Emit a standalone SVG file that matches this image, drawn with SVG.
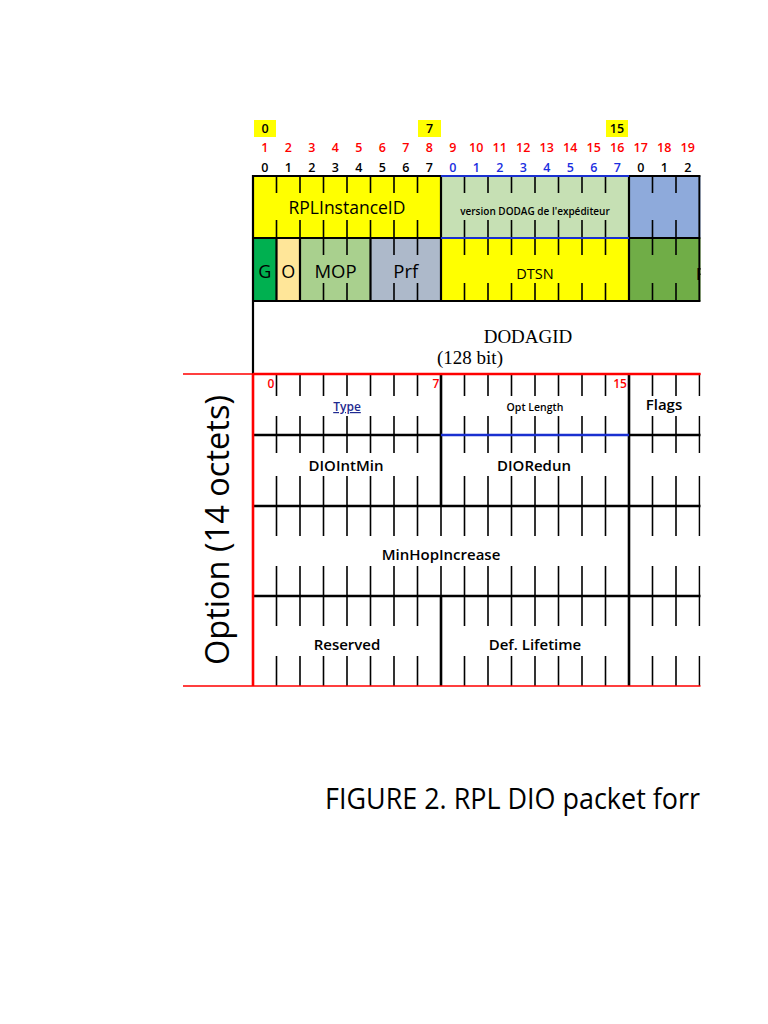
<svg xmlns="http://www.w3.org/2000/svg" width="768" height="1024" viewBox="0 0 768 1024">
<style>
.t{font-family:"Open Sans","Noto Sans",sans-serif;font-weight:600;text-anchor:middle}
.num{font-family:"Open Sans","Noto Sans",sans-serif;font-weight:600;font-size:12.5px;text-anchor:middle}
.red{fill:#ff0000}
.blu{fill:#1a2ee0}
.blk{fill:#000}
.tick{stroke:#000;stroke-width:1.6;fill:none}
.bl{stroke:#000;stroke-width:2.2;fill:none}
.bb{stroke:#1a30d0;stroke-width:2.2;fill:none}
.rd{stroke:#ff0000;fill:none}
</style>
<defs>
<clipPath id="cp"><rect x="0" y="0" width="700.5" height="1024"/></clipPath>
</defs>
<rect width="768" height="1024" fill="#fff"/>
<g id="header-bits">
<rect x="254" y="120" width="22" height="17" fill="#ffff00"/>
<rect x="418" y="120" width="23" height="17" fill="#ffff00"/>
<rect x="606" y="120" width="22" height="17" fill="#ffff00"/>
<text class="num blk" x="265" y="133">0</text>
<text class="num blk" x="429.5" y="133">7</text>
<text class="num blk" x="617" y="133">15</text>
<g class="num red">
<text x="264.75" y="152">1</text><text x="288.25" y="152">2</text><text x="311.75" y="152">3</text><text x="335.25" y="152">4</text><text x="358.75" y="152">5</text><text x="382.25" y="152">6</text><text x="405.75" y="152">7</text><text x="429.25" y="152">8</text><text x="452.75" y="152">9</text><text x="476.25" y="152">10</text><text x="499.75" y="152">11</text><text x="523.25" y="152">12</text><text x="546.75" y="152">13</text><text x="570.25" y="152">14</text><text x="593.75" y="152">15</text><text x="617.25" y="152">16</text><text x="640.75" y="152">17</text><text x="664.25" y="152">18</text><text x="687.75" y="152">19</text>
</g>
<g class="num blk">
<text x="264.75" y="172">0</text><text x="288.25" y="172">1</text><text x="311.75" y="172">2</text><text x="335.25" y="172">3</text><text x="358.75" y="172">4</text><text x="382.25" y="172">5</text><text x="405.75" y="172">6</text><text x="429.25" y="172">7</text>
<text x="640.75" y="172">0</text><text x="664.25" y="172">1</text><text x="687.75" y="172">2</text>
</g>
<g class="num blu">
<text x="452.75" y="172">0</text><text x="476.25" y="172">1</text><text x="499.75" y="172">2</text><text x="523.25" y="172">3</text><text x="546.75" y="172">4</text><text x="570.25" y="172">5</text><text x="593.75" y="172">6</text><text x="617.25" y="172">7</text>
</g>
</g>
<g clip-path="url(#cp)">
<g id="cells">
<rect x="253" y="176" width="188" height="62" fill="#ffff00"/>
<rect x="441" y="176" width="188" height="62" fill="#c6e0b4"/>
<rect x="629" y="176" width="72" height="62" fill="#8eaadb"/>
<rect x="253" y="238" width="23.5" height="63" fill="#00b050"/>
<rect x="276.5" y="238" width="23.5" height="63" fill="#ffe699"/>
<rect x="300" y="238" width="70.5" height="63" fill="#a9d08e"/>
<rect x="370.5" y="238" width="70.5" height="63" fill="#adb9ca"/>
<rect x="441" y="238" width="188" height="63" fill="#ffff00"/>
<rect x="629" y="238" width="72" height="63" fill="#70ad47"/>
</g>
<g id="connectors">
<path class="tick" d="M276.5 176V193M276.5 220V238M300 176V193M300 220V238M323.5 176V193M323.5 220V238M347 176V193M347 220V238M370.5 176V193M370.5 220V238M394 176V193M394 220V238M417.5 176V193M417.5 220V238M464.5 176V193M464.5 220V238M488 176V193M488 220V238M511.5 176V193M511.5 220V238M535 176V193M535 220V238M558.5 176V193M558.5 220V238M582 176V193M582 220V238M605.5 176V193M605.5 220V238M652.5 176V193M652.5 220V238M676 176V193M676 220V238"/>
<path class="tick" d="M323.5 238V255M323.5 283V301M347 238V255M347 283V301M394 238V255M394 283V301M417.5 238V255M417.5 283V301M464.5 238V255M464.5 283V301M488 238V255M488 283V301M511.5 238V255M511.5 283V301M535 238V255M535 283V301M558.5 238V255M558.5 283V301M582 238V255M582 283V301M605.5 238V255M605.5 283V301M652.5 238V255M652.5 283V301M676 238V255M676 283V301"/>
<path class="bl" d="M253 176H441M629 176H701M253 238H441M629 238H701M253 301H701M253 175V374M441 176V301M629 176V301M699.5 176V301M276.5 238V301M300 238V301M370.5 238V301"/>
<path class="bb" d="M441 176H629M441 238H629"/>
<path class="tick" d="M276.5 374V396M276.5 416V435M300 374V396M300 416V435M323.5 374V396M323.5 416V435M347 374V396M347 416V435M370.5 374V396M370.5 416V435M394 374V396M394 416V435M417.5 374V396M417.5 416V435M464.5 374V396M464.5 416V435M488 374V396M488 416V435M511.5 374V396M511.5 416V435M535 374V396M535 416V435M558.5 374V396M558.5 416V435M582 374V396M582 416V435M605.5 374V396M605.5 416V435M652.5 374V396M652.5 416V435M676 374V396M676 416V435M699.5 374V396M699.5 416V435"/>
<path class="tick" d="M276.5 435V453M276.5 476V506M300 435V453M300 476V506M323.5 435V453M323.5 476V506M347 435V453M347 476V506M370.5 435V453M370.5 476V506M394 435V453M394 476V506M417.5 435V453M417.5 476V506M464.5 435V453M464.5 476V506M488 435V453M488 476V506M511.5 435V453M511.5 476V506M535 435V453M535 476V506M558.5 435V453M558.5 476V506M582 435V453M582 476V506M605.5 435V453M605.5 476V506M652.5 435V453M652.5 476V506M676 435V453M676 476V506M699.5 435V453M699.5 476V506"/>
<path class="tick" d="M276.5 506V536M276.5 566V596M300 506V536M300 566V596M323.5 506V536M323.5 566V596M347 506V536M347 566V596M370.5 506V536M370.5 566V596M394 506V536M394 566V596M417.5 506V536M417.5 566V596M441 506V536M441 566V596M464.5 506V536M464.5 566V596M488 506V536M488 566V596M511.5 506V536M511.5 566V596M535 506V536M535 566V596M558.5 506V536M558.5 566V596M582 506V536M582 566V596M605.5 506V536M605.5 566V596M652.5 506V536M652.5 566V596M676 506V536M676 566V596M699.5 506V536M699.5 566V596"/>
<path class="tick" d="M276.5 596V626M276.5 656V686M300 596V626M300 656V686M323.5 596V626M323.5 656V686M347 596V626M347 656V686M370.5 596V626M370.5 656V686M394 596V626M394 656V686M417.5 596V626M417.5 656V686M464.5 596V626M464.5 656V686M488 596V626M488 656V686M511.5 596V626M511.5 656V686M535 596V626M535 656V686M558.5 596V626M558.5 656V686M582 596V626M582 656V686M605.5 596V626M605.5 656V686M652.5 596V626M652.5 656V686M676 596V626M676 656V686M699.5 596V626M699.5 656V686"/>
<path class="bl" d="M441 374V506M441 596V686M629 374V686M253 435H441M629 435H701M253 506H701M253 596H701" style="stroke-width:2.6"/>
<path class="bb" d="M441 435H629" style="stroke-width:2.4"/>
<path class="rd" d="M183 374H701M183 686H701" style="stroke-width:1.4"/>
<path class="rd" d="M253 374H701M253 374V686" style="stroke-width:2.6"/>
</g>
<g id="node-rplinstanceid"><text class="t" x="347" y="214" style="font-size:17.5px;font-weight:400">RPLInstanceID</text></g>
<g id="node-version"><text class="t" x="535" y="215" style="font-size:10px">version DODAG de l'expéditeur</text></g>
<g id="node-g"><text class="t" x="264.75" y="278" style="font-size:18px;font-weight:400">G</text></g>
<g id="node-o"><text class="t" x="288.25" y="278" style="font-size:18px;font-weight:400">O</text></g>
<g id="node-mop"><text class="t" x="335.5" y="278" style="font-size:18.5px;font-weight:400">MOP</text></g>
<g id="node-prf"><text class="t" x="405.75" y="278" style="font-size:18.5px;font-weight:400">Prf</text></g>
<g id="node-dtsn"><text class="t" x="535" y="279" style="font-size:14.5px;font-weight:400">DTSN</text></g>
<g id="node-f"><text x="696" y="280" style="font-family:'Open Sans','Noto Sans',sans-serif;font-size:16px;font-weight:600">F</text></g>
<g id="node-dodagid">
<text x="528" y="343" style="font-family:'Liberation Serif',serif;font-size:19px;text-anchor:middle">DODAGID</text>
<text x="470" y="364" style="font-family:'Liberation Serif',serif;font-size:19px;text-anchor:middle">(128 bit)</text>
</g>
<g id="option-bits">
<text class="num red" x="271" y="388" style="font-size:12px">0</text>
<text class="num red" x="436" y="388" style="font-size:12px">7</text>
<text class="num red" x="620" y="388" style="font-size:12px">15</text>
</g>
<g id="node-type"><text class="t" x="347" y="411" style="font-size:12px;fill:#1f2a90;text-decoration:underline">Type</text></g>
<g id="node-optlength"><text class="t" x="535" y="411" style="font-size:10.5px">Opt Length</text></g>
<g id="node-flags"><text class="t" x="664" y="410" style="font-size:15px">Flags</text></g>
<g id="node-diointmin"><text class="t" x="346" y="471" style="font-size:15px">DIOIntMin</text></g>
<g id="node-dioredun"><text class="t" x="534" y="471" style="font-size:15px">DIORedun</text></g>
<g id="node-minhop"><text class="t" x="441" y="560" style="font-size:15px">MinHopIncrease</text></g>
<g id="node-reserved"><text class="t" x="347" y="650" style="font-size:15px">Reserved</text></g>
<g id="node-deflifetime"><text class="t" x="535" y="650" style="font-size:15px">Def. Lifetime</text></g>
</g>
<g id="label-option">
<text transform="translate(229,530) rotate(-90)" x="0" y="0" textLength="270" lengthAdjust="spacingAndGlyphs" style="font-family:'Open Sans','Noto Sans',sans-serif;font-size:33px;text-anchor:middle">Option (14 octets)</text>
</g>
<g id="caption">
<text x="325" y="809" textLength="375" lengthAdjust="spacingAndGlyphs" style="font-family:'Open Sans','Noto Sans',sans-serif;font-size:30px">FIGURE 2. RPL DIO packet forr</text>
</g>
</svg>
